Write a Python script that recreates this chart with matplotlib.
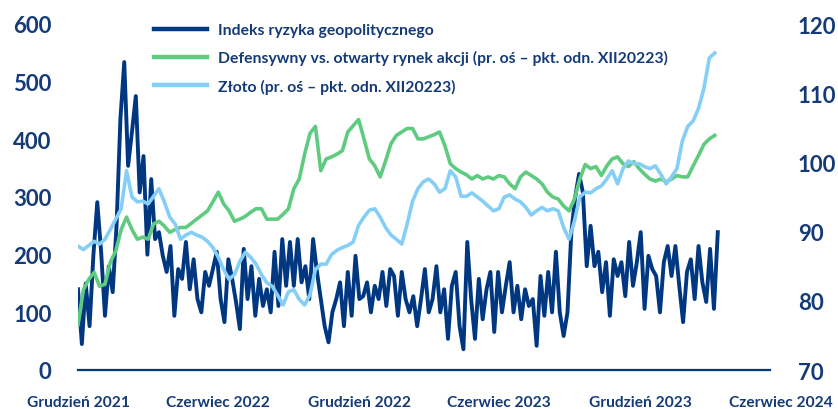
import pandas as pd
import matplotlib
matplotlib.use("Agg")
import matplotlib.pyplot as plt

plt.rcParams['font.family'] = ['Lato', 'DejaVu Sans']

# Indeks ryzyka geopolitycznego (lewa oś), co 5 dni od 31.12.2021
gpr = [140, 45, 150, 76, 200, 291, 205, 94, 180, 135, 250, 435, 534, 354, 413, 475,
       308, 371, 200, 331, 227, 239, 198, 170, 215, 94, 175, 158, 222, 140, 192, 123,
       100, 170, 146, 175, 205, 123, 83, 192, 158, 118, 71, 210, 123, 180, 94, 158,
       111, 140, 100, 205, 111, 227, 146, 222, 146, 227, 152, 180, 123, 227, 170, 123,
       76, 48, 100, 123, 152, 76, 170, 94, 198, 123, 128, 152, 100, 146, 123, 170,
       111, 175, 163, 94, 170, 123, 100, 128, 76, 123, 175, 100, 123, 180, 100, 140,
       54, 146, 170, 76, 36, 222, 123, 54, 158, 88, 140, 170, 66, 170, 100, 146,
       187, 100, 146, 88, 140, 111, 123, 42, 163, 94, 170, 100, 205, 100, 59, 100,
       239, 300, 340, 308, 180, 250, 180, 205, 135, 187, 94, 192, 163, 187, 128, 222,
       146, 187, 239, 106, 198, 175, 163, 100, 187, 215, 163, 215, 146, 83, 170, 192,
       123, 215, 152, 118, 210, 106, 239]

# Defensywny vs. otwarty rynek akcji (prawa oś), tygodniowo
defens = [76.5, 81.6, 83.1, 84.1, 82.1, 82.4, 85.6, 87.2, 90.3, 92.1, 90.3, 88.9,
          89.2, 88.9, 91.1, 91.5, 90.8, 89.9, 90.3, 90.6, 90.6, 91.2, 91.8, 92.4,
          93.0, 94.3, 95.7, 94.0, 93.0, 91.5, 91.8, 92.2, 92.8, 93.3, 93.3, 91.8,
          91.8, 91.8, 92.5, 93.3, 96.2, 97.6, 101.2, 104.2, 105.2, 98.8, 100.5, 100.8,
          101.2, 101.7, 104.4, 105.3, 106.2, 103.4, 100.5, 99.5, 97.9, 100.2, 102.7, 103.9,
          104.4, 104.9, 104.9, 103.4, 103.4, 103.7, 104.0, 104.4, 102.4, 99.8, 99.1, 98.6,
          98.2, 97.6, 98.1, 97.6, 97.9, 97.6, 98.1, 97.9, 96.9, 96.2, 97.9, 98.6,
          98.1, 97.6, 96.9, 95.7, 95.0, 94.7, 93.7, 93.0, 94.7, 97.6, 99.7, 99.1,
          99.4, 98.1, 99.5, 100.5, 100.8, 99.8, 99.4, 100.1, 99.1, 98.3, 97.6, 97.3,
          97.6, 97.2, 97.6, 98.1, 97.9, 97.9, 99.5, 101.0, 102.6, 103.4, 103.9]

# Złoto (prawa oś), tygodniowo
zloto = [87.9, 87.4, 88.0, 88.6, 88.2, 88.9, 90.3, 91.8, 93.3, 98.8, 95.0, 94.3,
         94.4, 94.0, 95.1, 96.2, 94.3, 92.1, 91.1, 88.9, 89.5, 89.9, 89.5, 89.2,
         88.6, 87.7, 86.3, 84.5, 83.1, 83.8, 85.7, 87.0, 86.3, 85.3, 83.8, 82.6,
         82.1, 80.8, 79.4, 81.3, 81.6, 80.2, 79.4, 80.9, 84.5, 85.3, 85.3, 86.7,
         87.3, 87.7, 88.0, 88.5, 90.9, 92.1, 93.1, 93.3, 92.1, 90.6, 89.5, 88.9,
         88.2, 91.1, 94.4, 96.2, 97.2, 97.6, 96.9, 95.7, 96.2, 98.8, 97.9, 95.1,
         95.1, 95.6, 95.0, 94.4, 93.7, 93.0, 93.3, 95.0, 95.3, 94.7, 94.3, 93.5,
         92.4, 93.0, 93.5, 93.0, 93.3, 93.0, 90.6, 88.9, 91.5, 95.0, 95.7, 95.6,
         96.2, 96.6, 97.6, 98.8, 96.9, 99.1, 100.2, 99.8, 99.8, 99.4, 99.1, 99.5,
         98.3, 96.9, 97.9, 99.1, 103.1, 105.2, 106.0, 107.8, 110.7, 115.1, 115.8]

tick_dates = ['2021-12-31', '2022-06-30', '2022-12-31', '2023-06-30', '2023-12-31', '2024-06-30']
tick_labels = ['Grudzień 2021', 'Czerwiec 2022', 'Grudzień 2022', 'Czerwiec 2023',
               'Grudzień 2023', 'Czerwiec 2024']

gpr_dates = pd.date_range('2021-12-31', periods=len(gpr), freq='5D')
week_dates = pd.date_range('2021-12-31', periods=len(defens), freq='7D')

navy = '#003781'
green = '#5FCB80'
light = '#85CFF6'
txt = '#143A78'

fig = plt.figure(figsize=(8.38, 4.10), dpi=100)
ax = fig.add_axes([78 / 838, 39 / 410, 703 / 838, 346 / 410])
ax2 = ax.twinx()

l1, = ax.plot(gpr_dates, gpr, color=navy, lw=2.8,
              label='Indeks ryzyka geopolitycznego')
l2, = ax2.plot(week_dates, defens, color=green, lw=2.6,
               label='Defensywny vs. otwarty rynek akcji (pr. oś – pkt. odn. XII20223)')
l3, = ax2.plot(week_dates, zloto, color=light, lw=2.6,
               label='Złoto (pr. oś – pkt. odn. XII20223)')

ax.set_xlim(pd.Timestamp('2021-12-31'), pd.Timestamp('2024-06-30'))
ax.set_ylim(0, 600)
ax2.set_ylim(70, 120)
ax.set_yticks(range(0, 601, 100))
ax2.set_yticks(range(70, 121, 10))
ax.set_xticks(pd.to_datetime(tick_dates))
ax.set_xticklabels(tick_labels)

for a in (ax, ax2):
    for s in a.spines.values():
        s.set_visible(False)
ax.axhline(0, xmin=0, xmax=0.984, color=navy, lw=1.6, clip_on=False)

ax.tick_params(axis='y', length=0, pad=19, labelsize=16, labelcolor=txt)
ax2.tick_params(axis='y', length=0, pad=12, labelsize=16, labelcolor=txt)
ax.tick_params(axis='x', length=0, pad=18, labelsize=11.2, labelcolor=txt)
for lab in ax.get_xticklabels():
    lab.set_fontweight('bold')
for lab in ax.get_yticklabels() + ax2.get_yticklabels():
    lab.set_fontweight('bold')

leg = fig.legend(handles=[l1, l2, l3], loc='upper left',
                 bbox_to_anchor=(154 / 838, 1 - 24 / 410), frameon=False,
                 borderaxespad=0, borderpad=0, handlelength=3.4, handletextpad=0.7,
                 labelspacing=0.85, prop={'size': 11.3, 'weight': 'bold'})
for t in leg.get_texts():
    t.set_color(txt)
for h in leg.get_lines():
    h.set_linewidth(3.2)

fig.savefig('out.png', dpi=100)
